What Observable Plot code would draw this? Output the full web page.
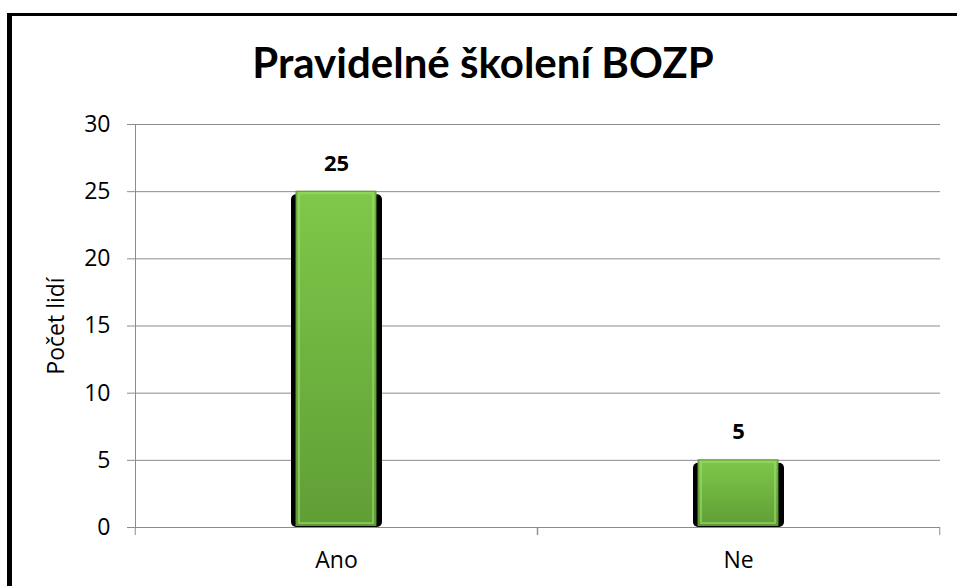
<!DOCTYPE html>
<html>
<head>
<meta charset="utf-8">
<script src="https://cdn.jsdelivr.net/npm/d3@7"></script>
<script src="https://cdn.jsdelivr.net/npm/@observablehq/plot@0.6"></script>
<style>
  html, body { margin: 0; padding: 0; background: #fff; }
  #wrap { position: relative; width: 957px; height: 586px; overflow: hidden; font-family: "Open Sans", sans-serif; }
  #border { position: absolute; left: 7px; top: 13px; width: 980px; height: 600px; border-top: 3px solid #000; border-left: 5px solid #000; box-sizing: border-box; }
  #chart { position: absolute; left: 0; top: 0; }
</style>
</head>
<body>
<div id="wrap">
  <div id="border"></div>
  <div id="chart"></div>
</div>
<script>
const title = "Pravidelné školení BOZP";
const categories = ["Ano", "Ne"];
const values = [25, 5];
const yTicks = [0, 5, 10, 15, 20, 25, 30];
const yLabel = "Počet lidí";

const data = categories.map((c, i) => ({cat: c, val: values[i]}));

const W = 957, H = 586;
const mL = 135, mR = 17;
const step = (W - mL - mR) / categories.length;

const plot = Plot.plot({
  width: W,
  height: H,
  marginLeft: mL,
  marginRight: mR,
  marginTop: 124,
  marginBottom: 59,
  style: {fontFamily: "'Open Sans', sans-serif", fontSize: "23px", color: "#000", background: "transparent"},
  x: {domain: categories, paddingInner: 0.8, paddingOuter: 0.4, label: null},
  y: {domain: [0, 30], ticks: yTicks, label: yLabel},
  marks: [
    Plot.gridY(yTicks, {stroke: "#8c8c8c", strokeOpacity: 1, strokeWidth: 1}),
    Plot.axisY(yTicks, {tickSize: 8, tickPadding: 17, stroke: "#8c8c8c", fill: "#000", fontSize: 23,
      label: yLabel, labelAnchor: "center", labelArrow: "none", labelOffset: 88}),
    Plot.axisX({tickSize: 0, tickPadding: 24, fontSize: 23, fill: "#000", label: null}),
    Plot.ruleX(categories, {x: d => d, y1: 0, y2: 0, dx: -step / 2, stroke: "#8c8c8c", insetBottom: -8}),
    Plot.ruleX(categories, {x: d => d, y1: 0, y2: 0, dx: step / 2, stroke: "#8c8c8c", insetBottom: -8}),
    Plot.frame({anchor: "left", stroke: "#8c8c8c"}),
    Plot.barY(data, {x: "cat", y: "val", fill: "#000", insetLeft: -5, insetRight: -6, insetTop: 3, rx: 5}),
    Plot.barY(data, {x: "cat", y: "val", fill: "url(#barGrad)", insetBottom: 1.5, stroke: "#5a9330", strokeWidth: 1}),
    Plot.barY(data, {x: "cat", y: "val", fill: "none", stroke: "#9fdc70", strokeWidth: 2, insetLeft: 3, insetRight: 3, insetTop: 2, insetBottom: 4, strokeOpacity: 0.6}),
    Plot.ruleY([0], {stroke: "#8c8c8c"}),
    Plot.text(data, {x: "cat", y: "val", text: d => String(d.val), dy: -28, fontWeight: "bold", fontSize: 22, fill: "#000"})
  ]
});

const svg = d3.select(plot);
const defs = svg.insert("defs", ":first-child");
const g = defs.append("linearGradient").attr("id", "barGrad").attr("x1", 0).attr("y1", 0).attr("x2", 0).attr("y2", 1);
g.append("stop").attr("offset", "0%").attr("stop-color", "#7fc84a");
g.append("stop").attr("offset", "100%").attr("stop-color", "#5f9e35");

svg.append("text")
  .attr("x", 483).attr("y", 78)
  .attr("text-anchor", "middle")
  .attr("font-family", "Lato, 'Open Sans', sans-serif")
  .attr("font-weight", "bold")
  .attr("font-size", 42)
  .attr("fill", "#000")
  .text(title);

document.getElementById("chart").appendChild(plot);
</script>
</body>
</html>
